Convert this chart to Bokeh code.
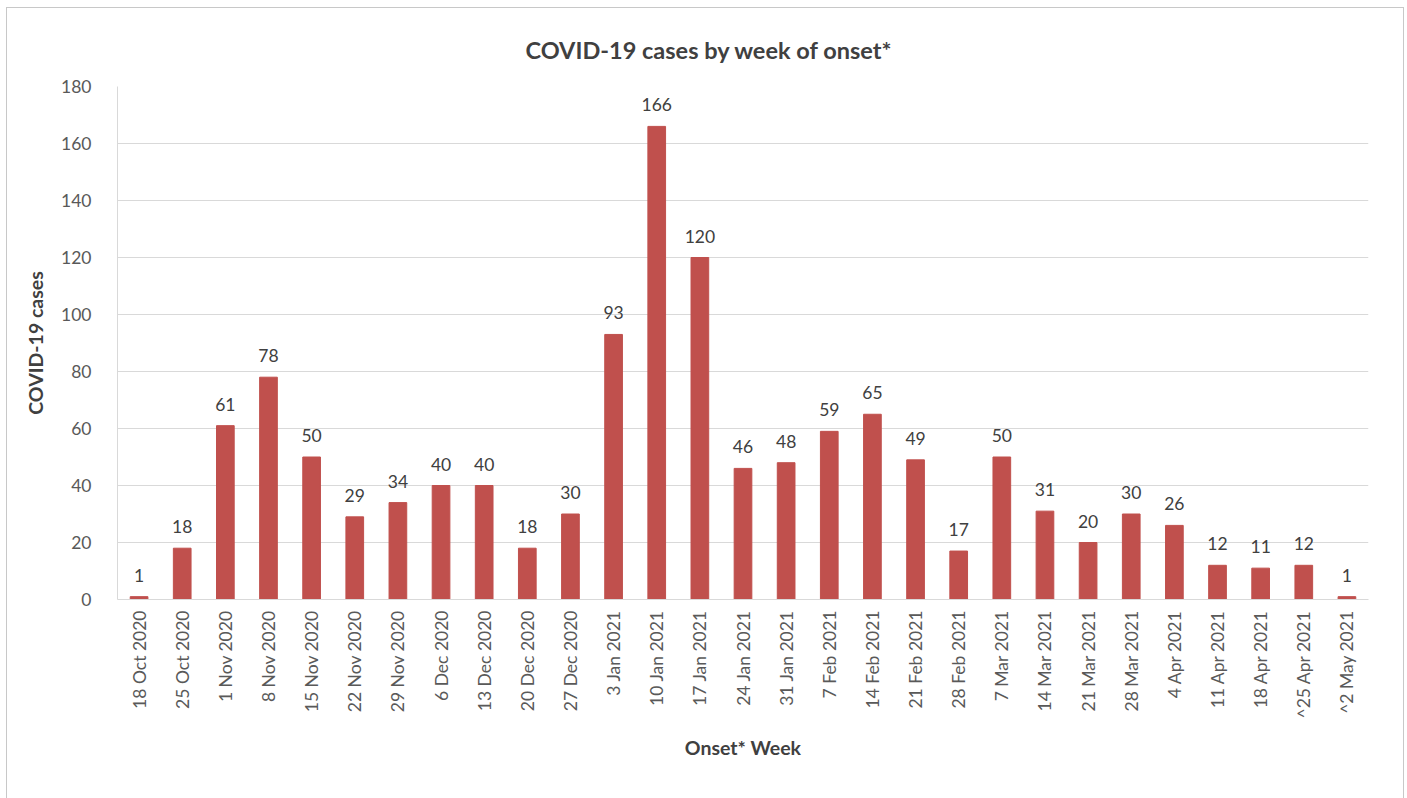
from bokeh.plotting import figure
from bokeh.models import ColumnDataSource, LabelSet, Range1d, FixedTicker, Title
from bokeh.core.properties import value
from bokeh.embed import file_html
from bokeh.resources import INLINE

weeks = ["18 Oct 2020", "25 Oct 2020", "1 Nov 2020", "8 Nov 2020", "15 Nov 2020",
         "22 Nov 2020", "29 Nov 2020", "6 Dec 2020", "13 Dec 2020", "20 Dec 2020",
         "27 Dec 2020", "3 Jan 2021", "10 Jan 2021", "17 Jan 2021", "24 Jan 2021",
         "31 Jan 2021", "7 Feb 2021", "14 Feb 2021", "21 Feb 2021", "28 Feb 2021",
         "7 Mar 2021", "14 Mar 2021", "21 Mar 2021", "28 Mar 2021", "4 Apr 2021",
         "11 Apr 2021", "18 Apr 2021", "^25 Apr 2021", "^2 May 2021"]
cases = [1, 18, 61, 78, 50, 29, 34, 40, 40, 18, 30, 93, 166, 120, 46, 48, 59, 65,
         49, 17, 50, 31, 20, 30, 26, 12, 11, 12, 1]
y_ticks = [0, 20, 40, 60, 80, 100, 120, 140, 160, 180]
title_text = "COVID-19 cases by week of onset*"

FONT = "Lato"
src = ColumnDataSource(dict(week=weeks, cases=cases, lab=[str(c) for c in cases]))

p = figure(x_range=weeks, y_range=Range1d(0, 180), width=1398, height=791,
           output_backend="svg", toolbar_location=None,
           min_border_left=110, min_border_right=37, min_border_top=78, min_border_bottom=200,
           styles={"border": "1px solid #c8c8c8", "border-bottom": "none",
                   "margin-left": "6px", "margin-top": "7px"})
p.outline_line_color = None
p.title = Title(text=title_text, align="left", offset=408,
                text_font=FONT, text_font_size="23.5px", text_font_style="bold",
                text_color="#404040", standoff=46)

p.vbar(x="week", top="cases", width=0.41, source=src, color="#C0504D")
p.add_layout(LabelSet(x="week", y="cases", text="lab", source=src, y_offset=15,
                      text_align="center", text_font=value(FONT), text_font_size=value("17.5px"),
                      text_color="#404040"))

p.xgrid.grid_line_color = None
p.ygrid.grid_line_color = "#d9d9d9"
p.ygrid.grid_line_width = 1

p.yaxis.ticker = FixedTicker(ticks=y_ticks)
p.yaxis.axis_line_color = "#d9d9d9"
p.yaxis.major_tick_line_color = None
p.yaxis.minor_tick_line_color = None
p.yaxis.major_label_standoff = 20
p.yaxis.axis_label = "COVID-19 cases"
p.yaxis.axis_label_standoff = 11

p.xaxis.axis_line_color = "#d9d9d9"
p.xaxis.major_tick_line_color = None
p.xaxis.major_label_orientation = 1.5708
p.xaxis.major_label_standoff = 5
p.xaxis.axis_label = "Onset* Week"
p.xaxis.axis_label_standoff = 14

for ax in (p.xaxis[0], p.yaxis[0]):
    ax.major_label_text_font = FONT
    ax.major_label_text_font_size = "17.5px"
    ax.major_label_text_color = "#595959"
    ax.axis_label_text_font = FONT
    ax.axis_label_text_font_size = "19.5px"
    ax.axis_label_text_font_style = "bold"
    ax.axis_label_text_color = "#404040"

open("out.html", "w").write(file_html(p, INLINE))
